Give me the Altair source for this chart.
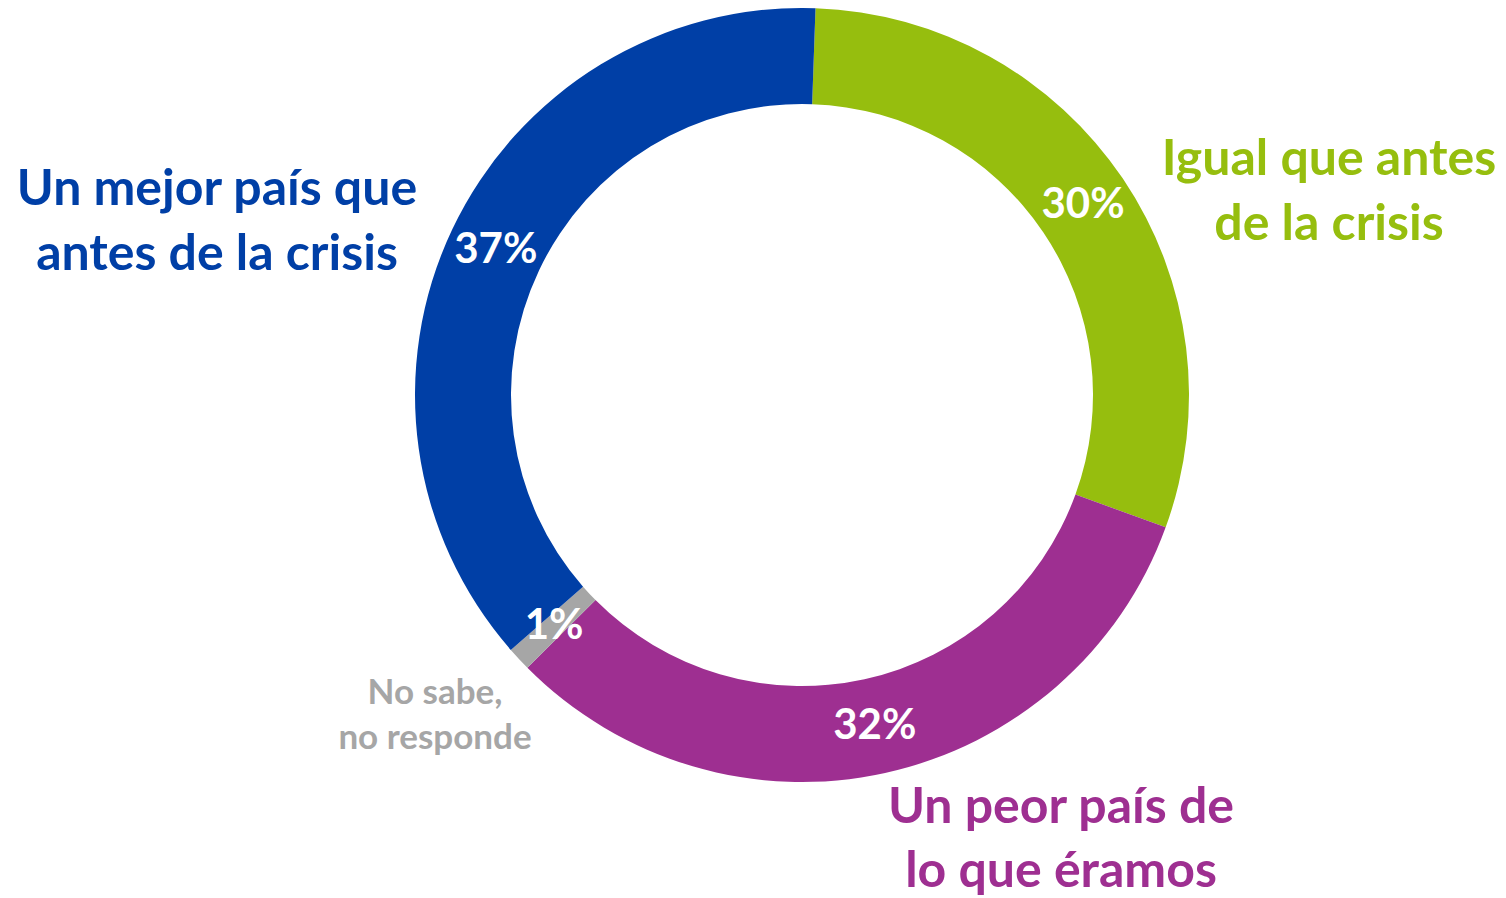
import math
import altair as alt
import pandas as pd

categories = ["Igual que antes de la crisis", "Un peor país de lo que éramos",
              "No sabe, no responde", "Un mejor país que antes de la crisis"]
values = [30, 32, 1, 37]
pct_labels = ["30%", "32%", "1%", "37%"]
order = [1, 2, 3, 4]
colors = ["#96BE0E", "#9E2F91", "#A6A6A6", "#003FA6"]

df = pd.DataFrame({"cat": categories, "value": values, "pct": pct_labels, "order": order})

FONT = "Lato"
CX, CY = 794, 387
offset = math.radians(2.0)

theta = alt.Theta("value:Q", stack=True,
                  scale=alt.Scale(domain=[0, 100], range=[offset, offset + 2 * math.pi]))
color = alt.Color("cat:N", scale=alt.Scale(domain=categories, range=colors), legend=None)

arcs = alt.Chart(df).mark_arc(innerRadius=291, outerRadius=387, stroke=None).encode(
    theta=theta, color=color, order=alt.Order("order:Q"),
    x=alt.value(CX), y=alt.value(CY))

pcts = alt.Chart(df).mark_text(radius=339, font=FONT, fontWeight="bold", fontSize=42,
                               color="white", align="center", baseline="middle").encode(
    theta=theta, order=alt.Order("order:Q"), text="pct:N",
    x=alt.value(CX), y=alt.value(CY))

def label(txt, x, y, col, size, lh):
    return alt.Chart(pd.DataFrame({"t": [txt]})).mark_text(
        font=FONT, fontWeight="bold", fontSize=size, color=col, align="center",
        baseline="middle", lineBreak="\n", lineHeight=lh).encode(
        text="t:N", x=alt.value(x), y=alt.value(y))

lab_blue = label("Un mejor país que\nantes de la crisis", 209, 182, colors[3], 50, 65)
lab_green = label("Igual que antes\nde la crisis", 1321, 152, colors[0], 50, 65)
lab_purple = label("Un peor país de\nlo que éramos", 1053, 800, colors[1], 50, 64)
lab_gray = label("No sabe,\nno responde", 427, 685, colors[2], 35, 45)

chart = alt.layer(arcs, pcts, lab_blue, lab_green, lab_purple, lab_gray).properties(
    width=1490, height=882, padding=0
).configure_view(stroke=None)

chart.save("out.html", embed_options={"renderer": "svg", "actions": False})
